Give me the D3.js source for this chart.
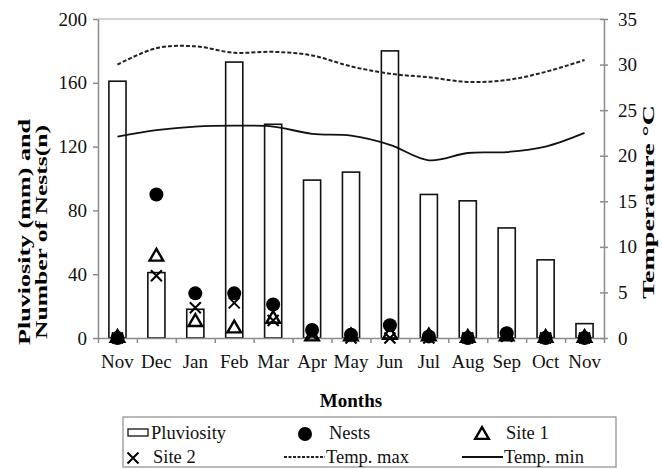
<!DOCTYPE html>
<html>
<head>
<meta charset="utf-8">
<script src="https://cdn.jsdelivr.net/npm/d3@7"></script>
<style>
  body { margin: 0; background: #fff; }
  svg { display: block; }
  svg text { font-family: "Liberation Serif", "Times New Roman", serif; }
</style>
</head>
<body>
<svg id="chart" width="662" height="469"></svg>
<script>
// months along the x axis (the year wraps, so Nov appears twice)
const months = ["Nov", "Dec", "Jan", "Feb", "Mar", "Apr", "May", "Jun", "Jul", "Aug", "Sep", "Oct", "Nov"];
const pluviosity = [161, 41, 18, 173, 134, 99, 104, 180, 90, 86, 69, 49, 9];
const nests = [0, 90, 28, 28, 21, 5, 2, 8, 1, 0, 3, 0, 0];
const site1 = [0, 51, 10, 6, 12, 1, 1, 2, 1, 0, 1, 0, 0];
const site2 = [0, 39, 19, 22, 11, 2, 0, 0, 0, 0, 1, 0, 0];
const tempMax = [30.0, 31.8, 32.0, 31.3, 31.4, 31.0, 29.8, 29.0, 28.6, 28.1, 28.3, 29.2, 30.5];
const tempMin = [22.1, 22.8, 23.2, 23.3, 23.2, 22.4, 22.2, 21.2, 19.5, 20.3, 20.4, 21.0, 22.5];
const leftTicks = [0, 40, 80, 120, 160, 200];
const rightTicks = [0, 5, 10, 15, 20, 25, 30, 35];

const AXIS_GREY = "#8c8c8c";
const PLOT = { left: 98, right: 604, top: 19, bottom: 338 };

const svg = d3.select("#chart");

const x = d3.scaleBand()
    .domain(d3.range(months.length))
    .range([PLOT.left, PLOT.right])
    .paddingInner(0.56)
    .paddingOuter(0.28);
const xEdge = d3.scaleLinear().domain([0, months.length]).range([PLOT.left, PLOT.right]);
const yLeft = d3.scaleLinear().domain([0, 200]).range([PLOT.bottom, PLOT.top]);
const yRight = d3.scaleLinear().domain([0, 35]).range([PLOT.bottom, PLOT.top]);
const cx = i => x(i) + x.bandwidth() / 2;

// top border of the plot
svg.append("line")
    .attr("x1", PLOT.left).attr("x2", PLOT.right)
    .attr("y1", PLOT.top).attr("y2", PLOT.top)
    .attr("stroke", "#c4c4c4").attr("stroke-width", 1.5);

// bars
svg.append("g")
    .selectAll("rect")
    .data(pluviosity)
    .join("rect")
    .attr("x", (d, i) => x(i))
    .attr("y", d => yLeft(d))
    .attr("width", x.bandwidth())
    .attr("height", d => yLeft(0) - yLeft(d))
    .attr("fill", "#fff")
    .attr("stroke", "#111")
    .attr("stroke-width", 1.6);

// axes
const styleAxis = g => {
    g.attr("font-family", null);
    g.select(".domain").attr("stroke", AXIS_GREY).attr("stroke-width", 1.5);
    g.selectAll(".tick line").attr("stroke", AXIS_GREY).attr("stroke-width", 1.5);
    g.selectAll(".tick text").attr("font-size", 19).attr("fill", "#111");
};

svg.append("g")
    .attr("transform", `translate(${ PLOT.left },0)`)
    .call(d3.axisLeft(yLeft).tickValues(leftTicks).tickSize(5).tickSizeOuter(0).tickPadding(6))
    .call(styleAxis);

svg.append("g")
    .attr("transform", `translate(${ PLOT.right },0)`)
    .call(d3.axisRight(yRight).tickValues(rightTicks).tickSize(4).tickSizeOuter(0).tickPadding(10))
    .call(styleAxis)
    .call(g => g.selectAll(".tick line").attr("x1", -4).attr("x2", 4));

svg.append("g")
    .attr("transform", `translate(0,${ PLOT.bottom })`)
    .call(d3.axisBottom(xEdge).tickValues(d3.range(months.length + 1)).tickSize(5).tickSizeOuter(0).tickFormat(""))
    .call(styleAxis);

svg.append("g")
    .attr("transform", `translate(0,${ PLOT.bottom })`)
    .call(d3.axisBottom(x).tickSize(0).tickPadding(17).tickFormat(i => months[i]))
    .call(styleAxis)
    .call(g => g.select(".domain").remove());

// temperature lines
const tempLine = d3.line()
    .x((d, i) => cx(i))
    .y(d => yRight(d))
    .curve(d3.curveCatmullRom.alpha(0.5));

svg.append("path")
    .attr("d", tempLine(tempMax))
    .attr("fill", "none")
    .attr("stroke", "#222")
    .attr("stroke-width", 2)
    .attr("stroke-dasharray", "4,2");

svg.append("path")
    .attr("d", tempLine(tempMin))
    .attr("fill", "none")
    .attr("stroke", "#111")
    .attr("stroke-width", 1.8);

// markers
const drawCircle = (g, px, py) => g.append("circle")
    .attr("cx", px).attr("cy", py).attr("r", 7).attr("fill", "#000");
const drawTriangle = (g, px, py) => g.append("path")
    .attr("d", d3.symbol(d3.symbolTriangle, 80)())
    .attr("transform", `translate(${ px },${ py })`)
    .attr("fill", "none").attr("stroke", "#000").attr("stroke-width", 2.4);
const drawCross = (g, px, py) => g.append("path")
    .attr("d", "M-5.5,-5.5L5.5,5.5M-5.5,5.5L5.5,-5.5")
    .attr("transform", `translate(${ px },${ py })`)
    .attr("fill", "none").attr("stroke", "#000").attr("stroke-width", 2);

const markerLayer = svg.append("g");
nests.forEach((d, i) => drawCircle(markerLayer, cx(i), yLeft(d)));
site1.forEach((d, i) => drawTriangle(markerLayer, cx(i), yLeft(d)));
site2.forEach((d, i) => drawCross(markerLayer, cx(i), yLeft(d)));

// axis titles
svg.append("text")
    .attr("x", 351).attr("y", 407)
    .attr("text-anchor", "middle")
    .attr("font-size", 19).attr("font-weight", "bold")
    .text("Months");

const leftTitle = [
    { text: "Pluviosity (mm) and", x: 30, length: 226 },
    { text: "Number of Nests(n)", x: 47, length: 214 }
];
leftTitle.forEach(t => svg.append("text")
    .attr("transform", `translate(${ t.x },232) rotate(-90)`)
    .attr("text-anchor", "middle")
    .attr("font-size", 17).attr("font-weight", "bold")
    .attr("textLength", t.length)
    .attr("lengthAdjust", "spacingAndGlyphs")
    .text(t.text));

svg.append("text")
    .attr("transform", "translate(654,202) rotate(-90)")
    .attr("text-anchor", "middle")
    .attr("font-size", 17).attr("font-weight", "bold")
    .attr("textLength", 194)
    .attr("lengthAdjust", "spacingAndGlyphs")
    .text("Temperature °C");

// legend
const legend = svg.append("g");
legend.append("rect")
    .attr("x", 123).attr("y", 417).attr("width", 493).attr("height", 50)
    .attr("fill", "#fff").attr("stroke", AXIS_GREY).attr("stroke-width", 1.2);

const legendText = (label, lx, ly) => legend.append("text")
    .attr("x", lx).attr("y", ly)
    .attr("font-size", 18.5).attr("fill", "#111")
    .text(label);

legend.append("rect")
    .attr("x", 128).attr("y", 429).attr("width", 20).attr("height", 7)
    .attr("fill", "#fff").attr("stroke", "#111").attr("stroke-width", 1.3);
legendText("Pluviosity", 151, 439);

drawCircle(legend, 305, 434);
legendText("Nests", 329, 439);

drawTriangle(legend, 482, 435);
legendText("Site 1", 506, 439);

drawCross(legend, 133, 458);
legendText("Site 2", 153, 463);

legend.append("line")
    .attr("x1", 284).attr("x2", 325).attr("y1", 457).attr("y2", 457)
    .attr("stroke", "#222").attr("stroke-width", 2).attr("stroke-dasharray", "3,1.5");
legendText("Temp. max", 326, 463);

legend.append("line")
    .attr("x1", 462).attr("x2", 503).attr("y1", 457).attr("y2", 457)
    .attr("stroke", "#111").attr("stroke-width", 2);
legendText("Temp. min", 504, 463);
</script>
</body>
</html>
